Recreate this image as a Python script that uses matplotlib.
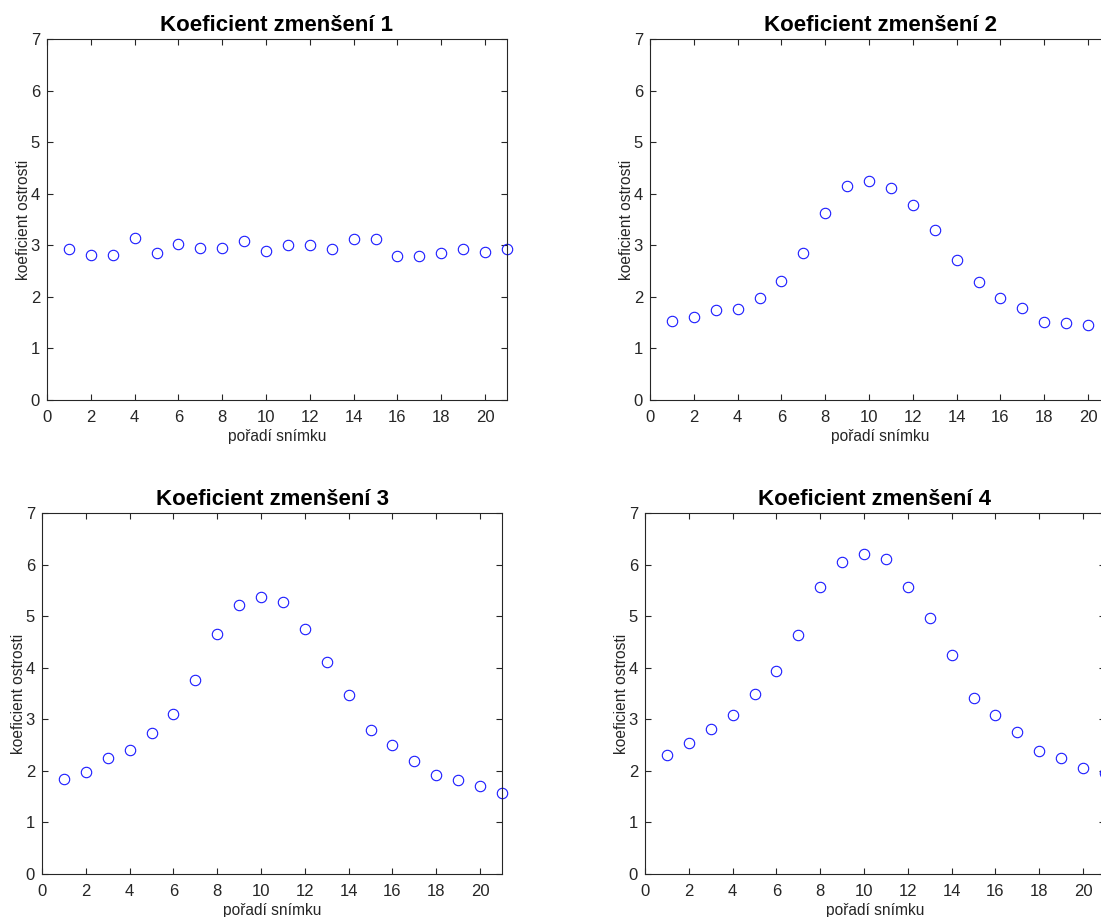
import numpy as np
import matplotlib
matplotlib.use("Agg")
import matplotlib.pyplot as plt

plt.rcParams['font.family'] = ['Liberation Sans', 'DejaVu Sans']

frames = list(range(1, 22))

coef_1 = [2.93, 2.81, 2.81, 3.15, 2.85, 3.03, 2.94, 2.95, 3.08, 2.89, 3.01,
          3.01, 2.93, 3.12, 3.13, 2.79, 2.79, 2.85, 2.93, 2.87, 2.92]
coef_2 = [1.54, 1.60, 1.74, 1.77, 1.98, 2.31, 2.85, 3.63, 4.14, 4.24, 4.11,
          3.78, 3.29, 2.72, 2.29, 1.98, 1.78, 1.51, 1.49, 1.45, 1.40]
coef_3 = [1.85, 1.98, 2.25, 2.40, 2.73, 3.10, 3.76, 4.65, 5.22, 5.38, 5.28,
          4.75, 4.12, 3.48, 2.79, 2.50, 2.20, 1.91, 1.83, 1.71, 1.57]
coef_4 = [2.31, 2.54, 2.82, 3.08, 3.50, 3.94, 4.63, 5.56, 6.05, 6.21, 6.11,
          5.57, 4.96, 4.25, 3.42, 3.08, 2.75, 2.39, 2.25, 2.05, 1.96]

titles = ['Koeficient zmenšení 1', 'Koeficient zmenšení 2',
          'Koeficient zmenšení 3', 'Koeficient zmenšení 4']
xticks = list(range(0, 21, 2))
yticks = list(range(0, 8))

W, H = 1101, 917
fig = plt.figure(figsize=(W / 100, H / 100), dpi=100)

# axes boxes in pixels: left, top, width, height
boxes = [(47, 39, 460, 361), (650, 39, 460, 361),
         (42, 513, 460, 361), (645, 513, 460, 361)]
series = [coef_1, coef_2, coef_3, coef_4]
axc = '#262626'

for (l, t, w, h), vals, title in zip(boxes, series, titles):
    ax = fig.add_axes([l / W, (H - t - h) / H, w / W, h / H])
    ax.plot(frames, vals, 'o', mfc='none', mec='#1a1aff', ms=7.5, mew=0.8,
            clip_on=False)
    ax.set_xlim(0, 21)
    ax.set_ylim(0, 7)
    ax.set_xticks(xticks)
    ax.set_yticks(yticks)
    ax.tick_params(axis='x', pad=7)
    ax.tick_params(axis='y', pad=5)
    ax.tick_params(direction='in', top=True, right=True, length=4,
                   width=0.8, colors=axc, labelsize=12)
    for s in ax.spines.values():
        s.set_color(axc)
        s.set_linewidth(0.8)
    ax.set_title(title, fontsize=16, fontweight='bold', pad=6)
    ax.set_xlabel('pořadí snímku', fontsize=11.2, color=axc, labelpad=3)
    ax.set_ylabel('koeficient ostrosti', fontsize=11.2, color=axc, labelpad=0)

fig.savefig('out.png', dpi=100)
